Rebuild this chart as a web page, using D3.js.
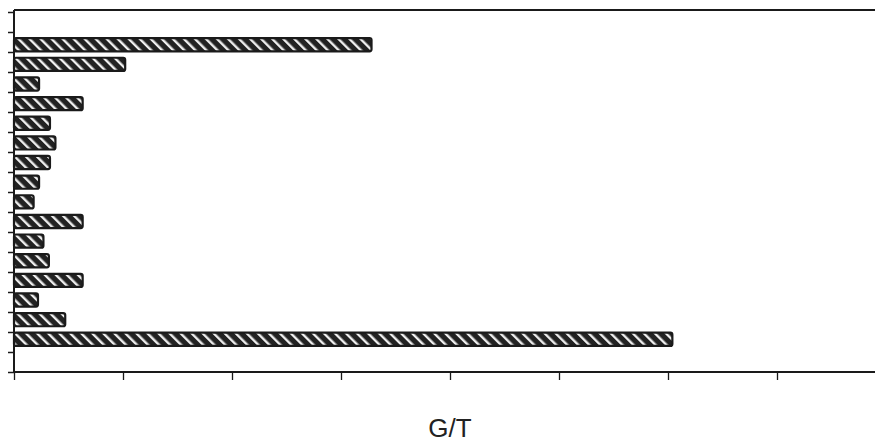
<!DOCTYPE html>
<html>
<head>
<meta charset="utf-8">
<script src="https://cdn.jsdelivr.net/npm/d3@7"></script>
<style>
  body { margin: 0; background: #fff; overflow: hidden; }
  svg { display: block; }
</style>
</head>
<body>
<div id="chart"></div>
<script>
// 18 bands on the y axis, bars in bands 2..17 (top to bottom)
const categories = [
  "", "r1", "r2", "r3", "r4", "r5", "r6", "r7", "r8",
  "r9", "r10", "r11", "r12", "r13", "r14", "r15", "r16", " "
];
const values = [
  null, 3.28, 1.02, 0.23, 0.63, 0.33, 0.38, 0.33, 0.23,
  0.18, 0.63, 0.27, 0.32, 0.63, 0.22, 0.47, 6.04, null
];
const xTicks = [0, 1, 2, 3, 4, 5, 6, 7];
const xLabel = "G/T";

function drawChart() {
  const width = 876;
  const height = 443;
  const left = 14;
  const top = 12;
  const bottom = 372;
  const ink = "#1a1a1a";

  const svg = d3.select("#chart")
    .append("svg")
    .attr("width", width)
    .attr("height", height);

  const defs = svg.append("defs");
  const pattern = defs.append("pattern")
    .attr("id", "hatch")
    .attr("patternUnits", "userSpaceOnUse")
    .attr("width", 7.8)
    .attr("height", 7.8)
    .attr("patternTransform", "rotate(-45)");
  pattern.append("rect")
    .attr("width", 7.8)
    .attr("height", 7.8)
    .attr("fill", "#222");
  pattern.append("rect")
    .attr("x", 0)
    .attr("width", 2.4)
    .attr("height", 7.8)
    .attr("fill", "#f0f0f0");

  const x = d3.scaleLinear().domain([0, 8]).range([left, left + 8 * 109]);
  const y = d3.scaleBand().domain(categories).range([top, bottom]).padding(0.33);
  const yEdge = d3.scaleLinear().domain([0, categories.length]).range([top, bottom]);

  // top frame line (open on the right, as in the scan)
  svg.append("line")
    .attr("x1", left)
    .attr("x2", width - 1)
    .attr("y1", 10)
    .attr("y2", 10)
    .attr("stroke", ink)
    .attr("stroke-width", 2);

  // bars
  const rows = categories.map((c, i) => ({ c, v: values[i] })).filter((d) => d.v !== null);
  svg.append("g")
    .selectAll("rect")
    .data(rows)
    .enter()
    .append("rect")
    .attr("x", x(0))
    .attr("y", (d) => y(d.c))
    .attr("width", (d) => x(d.v) - x(0))
    .attr("height", y.bandwidth())
    .attr("rx", 2)
    .attr("fill", "url(#hatch)")
    .attr("stroke", ink)
    .attr("stroke-width", 2.2);

  // y axis: ticks at band edges, no labels
  const yAxis = svg.append("g")
    .attr("transform", `translate(${left},0)`)
    .call(
      d3.axisLeft(yEdge)
        .tickValues(d3.range(categories.length + 1))
        .tickSize(6)
        .tickFormat("")
    );
  yAxis.select(".domain").remove();
  yAxis.selectAll("line").attr("stroke", ink).attr("stroke-width", 1.5);
  svg.append("line")
    .attr("x1", left)
    .attr("x2", left)
    .attr("y1", 10)
    .attr("y2", bottom + 1)
    .attr("stroke", ink)
    .attr("stroke-width", 2);

  // x axis
  const xAxis = svg.append("g")
    .attr("transform", `translate(0,${bottom})`)
    .call(
      d3.axisBottom(x)
        .tickValues(xTicks)
        .tickSize(8)
        .tickSizeOuter(0)
        .tickFormat("")
    );
  xAxis.select(".domain").remove();
  xAxis.selectAll("line").attr("stroke", ink).attr("stroke-width", 1.3);
  svg.append("line")
    .attr("x1", left - 1)
    .attr("x2", width - 1)
    .attr("y1", bottom)
    .attr("y2", bottom)
    .attr("stroke", ink)
    .attr("stroke-width", 2);

  svg.append("text")
    .attr("x", 450)
    .attr("y", 437)
    .attr("text-anchor", "middle")
    .attr("font-family", "'Liberation Sans', Arial, sans-serif")
    .attr("font-size", 26)
    .attr("fill", "#222")
    .text(xLabel);
}

drawChart();
</script>
</body>
</html>
